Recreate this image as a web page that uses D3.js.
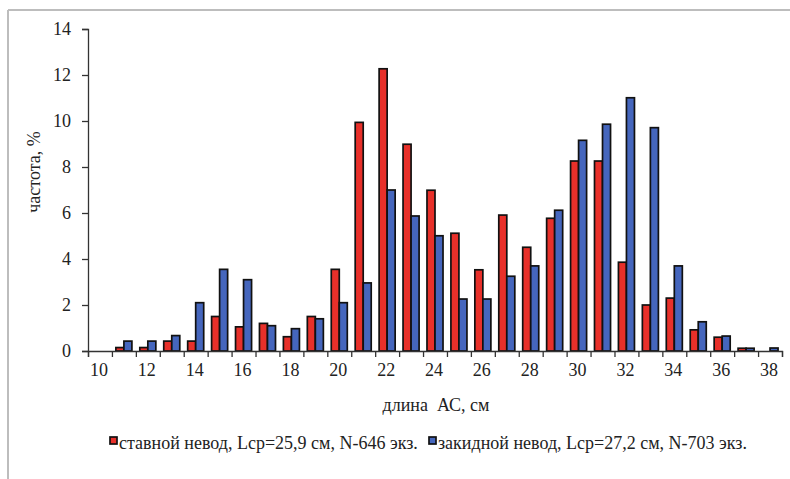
<!DOCTYPE html>
<html><head><meta charset="utf-8">
<script src="https://cdn.jsdelivr.net/npm/d3@7"></script>
<style>
html,body{margin:0;padding:0;background:#fff;}
svg{display:block;}
svg text{font-family:"Liberation Serif","Times New Roman",serif;}
</style></head>
<body>
<svg id="chart" width="790" height="479"></svg>
<script>
const categories = [10,11,12,13,14,15,16,17,18,19,20,21,22,23,24,25,26,27,28,29,30,31,32,33,34,35,36,37,38];
const stavnoy = [0,0.15,0.15,0.43,0.43,1.5,1.05,1.2,0.62,1.5,3.55,9.94,12.27,8.99,6.99,5.12,3.53,5.91,4.51,5.77,8.26,8.26,3.86,2.0,2.3,0.92,0.6,0.12,0];
const zakidnoy = [0,0.43,0.43,0.67,2.1,3.55,3.1,1.1,0.97,1.4,2.1,2.96,7.0,5.87,5.01,2.26,2.26,3.25,3.7,6.12,9.16,9.86,11.01,9.71,3.7,1.27,0.65,0.12,0.13];
const xTickLabels = [10,12,14,16,18,20,22,24,26,28,30,32,34,36,38];
const yTicks = [0,2,4,6,8,10,12,14];
const seriesNames = ["ставной невод, Lср=25,9 см, N-646 экз.", "закидной невод, Lср=27,2 см, N-703 экз."];
const seriesColors = ["#e8302a", "#4566bd"];

const svg = d3.select("#chart");
// frame (left + top)
svg.append("line").attr("x1",8).attr("y1",10).attr("x2",790).attr("y2",10).attr("stroke","#bdbdbd").attr("stroke-width",2);
svg.append("line").attr("x1",8).attr("y1",10).attr("x2",8).attr("y2",479).attr("stroke","#bdbdbd").attr("stroke-width",2);

const x0 = 88, x1 = 782, yTop = 29, yBot = 351;
const x = d3.scaleBand().domain(categories).range([x0,x1]).paddingInner(0.33).paddingOuter(0.165);
const xs = d3.scaleBand().domain([0,1]).range([0,x.bandwidth()]);
const y = d3.scaleLinear().domain([0,14]).range([yBot,yTop]);
const xb = d3.scaleLinear().domain([9.5,38.5]).range([x0,x1]);

const data = categories.map((c,i)=>({c, v:[stavnoy[i], zakidnoy[i]]}));
const g = svg.append("g");
data.forEach(d=>{
  d.v.forEach((v,k)=>{
    if (v<=0) return;
    g.append("rect")
      .attr("x", x(d.c)+xs(k))
      .attr("y", y(v))
      .attr("width", xs.bandwidth())
      .attr("height", y(0)-y(v))
      .attr("fill", seriesColors[k])
      .attr("stroke","#111").attr("stroke-width",1.7);
  });
});

// y axis
const yAxis = svg.append("g").attr("transform",`translate(${x0},0)`)
  .call(d3.axisLeft(y).tickValues(yTicks).tickSize(6).tickPadding(11).tickFormat(d3.format("d")));
yAxis.attr("font-family",null).attr("font-size",null);
yAxis.selectAll("text").style("font-size","18px").attr("fill","#222").attr("dy","0.33em");
yAxis.selectAll("line,path").attr("stroke","#333").attr("stroke-width",1.3);

// x axis boundary ticks
const xbAxis = svg.append("g").attr("transform",`translate(0,${yBot})`)
  .call(d3.axisBottom(xb).tickValues(d3.range(9.5,39,1)).tickSize(6).tickFormat(""));
xbAxis.selectAll("line,path").attr("stroke","#333").attr("stroke-width",1.3);
// x labels
const xlAxis = svg.append("g").attr("transform",`translate(-1,${yBot})`)
  .call(d3.axisBottom(x).tickValues(xTickLabels).tickSize(0).tickPadding(12));
xlAxis.attr("font-family",null).attr("font-size",null);
xlAxis.select("path").remove();
xlAxis.selectAll("text").style("font-size","18px").attr("fill","#222");

// axis titles
svg.append("text").attr("x",436).attr("y",411).attr("text-anchor","middle")
  .attr("font-size",18).attr("fill","#222").style("white-space","pre").text("длина  АС, см");
svg.append("text").attr("transform","translate(40,172) rotate(-90)").attr("text-anchor","middle")
  .attr("font-size",18).attr("fill","#222").text("частота, %");

// legend
const leg = svg.append("g");
const legX = [110, 429];
seriesNames.forEach((n,k)=>{
  leg.append("rect").attr("x",legX[k]).attr("y",437).attr("width",7).attr("height",7)
    .attr("fill",seriesColors[k]).attr("stroke","#111").attr("stroke-width",1.7);
  leg.append("text").attr("x",legX[k]+9).attr("y",449).attr("font-size",18).attr("fill","#222").text(n);
});
</script>
</body></html>
